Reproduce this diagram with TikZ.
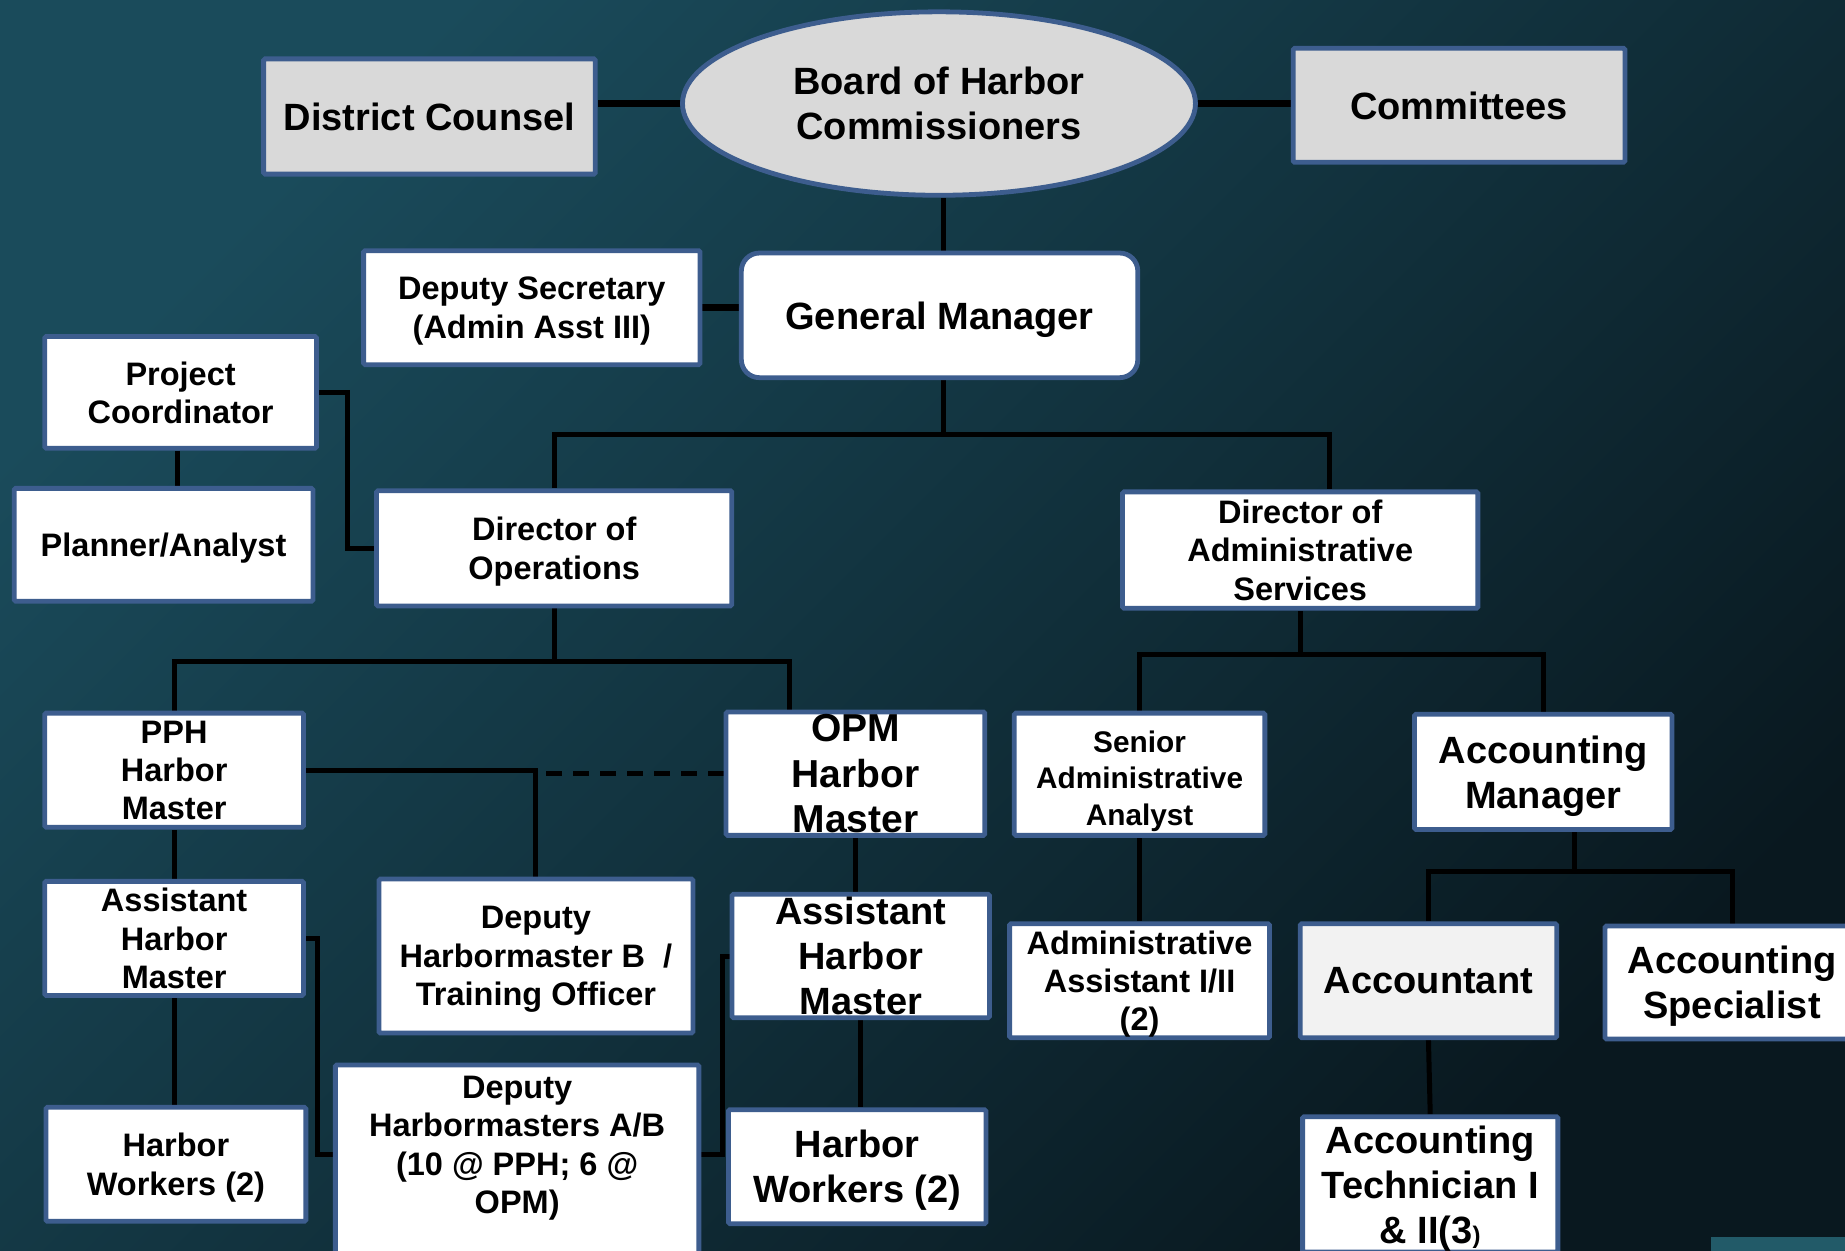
\documentclass[tikz,border=0pt]{standalone}
\usepackage{fontspec}
\setmainfont{Liberation Sans}
\usetikzlibrary{shapes.geometric,calc}
\pgfdeclarelayer{back}
\pgfdeclarelayer{bg}
\pgfsetlayers{back,bg,main}
\definecolor{bord}{HTML}{3D5D8E}
\definecolor{grayfill}{HTML}{D9D9D9}
\definecolor{lightfill}{HTML}{F2F2F2}
\definecolor{bgA}{HTML}{1A4B5B}
\definecolor{bgB}{HTML}{09181F}
\definecolor{cornerteal}{HTML}{225A68}
\tikzset{
  orgnode/.style={draw=bord, line width=4.8pt, fill=white, inner sep=0pt, align=center, text=black, rounded corners=1.5pt},
  grayn/.style={orgnode, fill=grayfill},
  lightn/.style={orgnode, fill=lightfill},
  txtonly/.style={inner sep=0pt, align=center, text=black},
  fA/.style={font=\fontsize{38}{45}\selectfont\bfseries},
  fO/.style={font=\fontsize{39}{45.5}\selectfont\bfseries},
  fB/.style={font=\fontsize{32.5}{38.3}\selectfont\bfseries},
  fS/.style={font=\fontsize{29.8}{36.5}\selectfont\bfseries},
  conn/.style={draw=black, line width=5pt},
  thickconn/.style={draw=black, line width=6.5pt},
}
% last line of a text: no descender depth (centre on the capitals)
\newcommand\nd[1]{\raisebox{0pt}[\height][-3.5pt]{#1}}
% name, x1, y1, x2, y2, style, text
\newcommand\orgbox[7]{%
  \node[#6, minimum width={(#4-#2)*1.1767pt-4.8pt}, minimum height={(#5-#3)*1.1767pt-4.8pt}]
    (#1) at ({(#2+#4)/2},{(#3+#5)/2}) {#7};}
\begin{document}
\begin{tikzpicture}[x=1.1767pt, y=-1.1767pt]
\useasboundingbox (0,0) rectangle (1568,1063);
\begin{pgfonlayer}{back}
  \shade[top color=bgA, bottom color=bgB, shading angle=45] (0,0) rectangle (1568,1063);
  \fill[cornerteal] (1454,1051) rectangle (1568,1063);
\end{pgfonlayer}

% top row
\orgbox{dc}{222}{48}{508}{150}{grayn,fA}{\nd{District Counsel}}
\node[grayn, ellipse, fA, minimum width={440*1.1767pt-4.8pt}, minimum height={160*1.1767pt-4.8pt}]
  (board) at (798,88) {Board of Harbor\\\nd{Commissioners}};
\orgbox{comm}{1097}{39}{1383}{140}{grayn,fA}{\nd{Committees}}

% second row
\orgbox{depsec}{307}{211}{597}{312}{orgnode,fB}{Deputy Secretary\\\nd{(Admin Asst III)}}
\orgbox{gm}{628}{213}{969}{323}{orgnode,fA,rounded corners=18pt}{\nd{General Manager}}

% directors
\orgbox{pc}{36}{284}{271}{383}{orgnode,fB}{Project\\\nd{Coordinator}}
\orgbox{plan}{10}{413}{268}{513}{orgnode,fB}{\nd{Planner/Analyst}}
\orgbox{dirops}{318}{415}{624}{517}{orgnode,fB}{Director of\\\nd{Operations}}
\orgbox{diradm}{952}{416}{1258}{519}{orgnode,fB}{Director of\\Administrative\\\nd{Services}}

% fourth row
\orgbox{pph}{36}{604}{260}{705}{orgnode,fB}{PPH\\Harbor\\\nd{Master}}
\orgbox{opm}{615}{603}{839}{712}{orgnode,fO}{OPM\\Harbor\\\nd{Master}}
\orgbox{saa}{860}{604}{1077}{712}{orgnode,fS}{\rule{0pt}{29pt}Senior\\Administrative\\\nd{Analyst}}
\orgbox{acm}{1200}{605}{1423}{707}{orgnode,fA}{Accounting\\\nd{Manager}}

% fifth row
\orgbox{asstL}{36}{747}{260}{848}{orgnode,fB}{Assistant\\Harbor\\\nd{Master}}
\orgbox{depb}{320}{745}{591}{880}{orgnode,fB}{Deputy\\Harbormaster B~~/\\\nd{Training Officer}}
\orgbox{asstO}{620}{758}{843}{867}{orgnode,fA}{Assistant\\Harbor\\\nd{Master}}
\orgbox{aa}{856}{783}{1081}{884}{orgnode,fB}{Administrative\\Assistant I/II\\\nd{(2)}}
\orgbox{acct}{1103}{783}{1325}{884}{lightn,fA}{\nd{Accountant}}
\orgbox{spec}{1362}{785}{1582}{885}{orgnode,fA}{Accounting\\\nd{Specialist}}

% bottom row
\orgbox{hwL}{37}{939}{262}{1040}{orgnode,fB}{Harbor\\\nd{Workers (2)}}
\orgbox{depA}{283}{903}{596}{1095}{orgnode}{}
\node[txtonly, fB] (depAtext) at (439.5,973) {Deputy\\Harbormasters A/B\\(10 @ PPH; 6 @\\\nd{OPM)}};
\orgbox{hwO}{617}{941}{840}{1042}{orgnode,fA}{Harbor\\\nd{Workers (2)}}
\orgbox{tech}{1105}{947}{1326}{1066}{orgnode,fA}{Accounting\\Technician I\\\nd{\& II(3{\fontsize{24}{24}\selectfont)}}}

% connectors
\begin{pgfonlayer}{bg}
  \draw[thickconn] (board.west) -- (board.west -| dc.east);
  \draw[thickconn] (board.east) -- (board.east -| comm.west);
  \coordinate (gx) at ($(board.south)+(4,0)$);
  \draw[conn] (gx) -- (gx |- gm.north);
  \draw[thickconn] (depsec.east) -- (depsec.east -| gm.west);

  \coordinate (b1) at (0,369);
  \coordinate (da) at ($(diradm.north)+(25,0)$);
  \draw[conn] (gm.south -| gx) -- (gx |- b1);
  \draw[conn] (dirops.north) |- (b1 -| da) -- (da);

  \draw[conn] (pc.east) -- ++(24,0) |- (dirops.west);
  \coordinate (px) at ($(pc.south)+(-3,0)$);
  \draw[conn] (px) -- (px |- plan.north);

  \coordinate (b2) at (0,562);
  \coordinate (om) at ($(opm.north)+(-56,0)$);
  \draw[conn] (dirops.south) -- (dirops.south |- b2);
  \draw[conn] (pph.north) |- (b2 -| om) -- (om);

  \draw[conn] (pph.east) -| (depb.north);
  \draw[conn, dash pattern=on 16pt off 11pt] (opm.west) -- (opm.west -| depb.north);

  \draw[conn] (pph.south) -- (asstL.north);
  \draw[conn] (asstL.south) -- (asstL.south |- hwL.north);
  \coordinate (dAw) at ($(depA.north west)+(0,78)$);
  \draw[conn] (asstL.east) -- ++(10,0) |- (dAw);

  \draw[conn] (opm.south) -- (opm.south |- asstO.north);
  \draw[conn] (asstO.south) -- (asstO.south |- hwO.north);
  \coordinate (dAe) at ($(depA.north east)+(0,78)$);
  \draw[conn] (dAe) -- ++(18,0) |- (asstO.west);

  \coordinate (b3) at (0,556);
  \draw[conn] (diradm.south) -- (diradm.south |- b3);
  \draw[conn] (saa.north) |- (b3 -| acm.north) -- (acm.north);
  \draw[conn] (saa.south) -- (aa.north);

  \coordinate (am) at ($(acm.south)+(27,0)$);
  \coordinate (b4) at (0,741);
  \draw[conn] (am) -- (am |- b4);
  \draw[conn] (acct.north) |- (b4 -| spec.north) -- (spec.north);
  \draw[conn] (acct.south) -- (tech.north);
\end{pgfonlayer}
\end{tikzpicture}
\end{document}
